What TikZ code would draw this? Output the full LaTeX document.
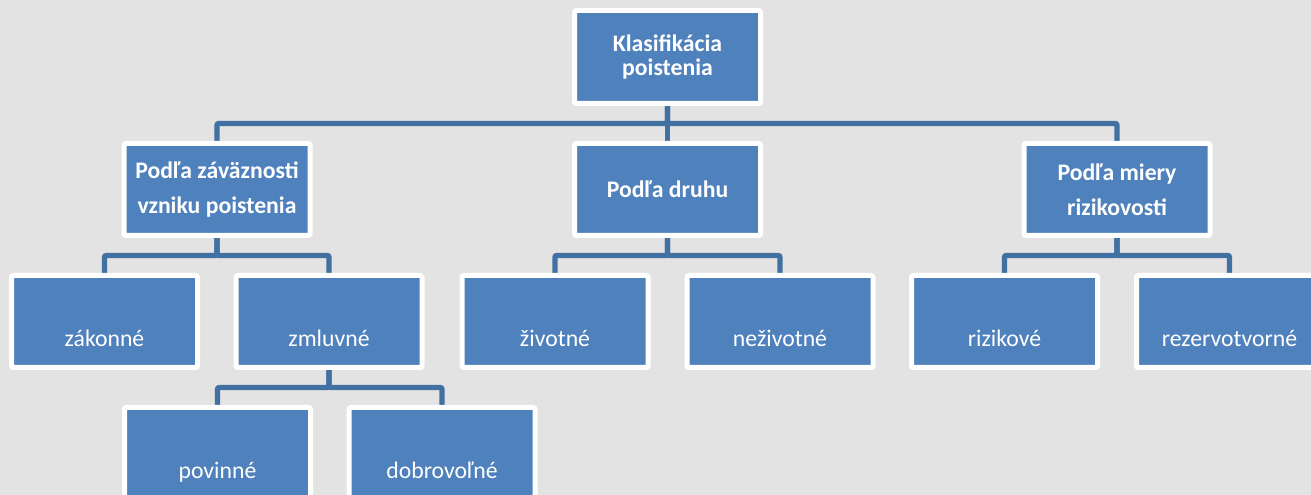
\documentclass[tikz,border=0pt]{standalone}
\usepackage{fontspec}
\setmainfont{Carlito}
\usetikzlibrary{backgrounds}
\definecolor{bg}{RGB}{227,227,227}
\definecolor{boxblue}{RGB}{79,129,189}
\definecolor{linkblue}{RGB}{65,113,163}
\begin{document}
\begin{tikzpicture}[x=0.75pt,y=-0.75pt,
  box/.style={rectangle, rounded corners=1.5pt, fill=boxblue, draw=white,
    line width=3.75pt, minimum width=139.5pt, minimum height=69pt,
    inner sep=0pt, text=white},
  head/.style={box, font=\fontsize{17.8pt}{26.25pt}\selectfont\bfseries, align=center},
  rootbox/.style={box, minimum height=69.75pt, font=\fontsize{17.8pt}{17.6pt}\selectfont\bfseries, align=center},
  leaf/.style={box, font=\fontsize{17.8pt}{21pt}\selectfont, text height=37.5pt, text depth=0pt},
  conn/.style={draw=linkblue, line width=4.1pt, rounded corners=1.5pt}]
\useasboundingbox (0,0) rectangle (1311,495);
\begin{pgfonlayer}{background}
  \fill[bg] (0,0) rectangle (1311,495);
\end{pgfonlayer}
\clip (0,0) rectangle (1311,495);

\node[rootbox] (root) at (667.5,57) {Klasifikácia\\poistenia};
\node[head] (zav) at (217,189.5) {Podľa záväznosti\\vzniku poistenia};
\node[head] (druh) at (667.5,189.5) {Podľa druhu};
\node[head] (rizk) at (1117,189.5) {Podľa miery\\rizikovosti};

\node[leaf] (zak) at (104.5,321.5) {zákonné};
\node[leaf] (zml) at (329,321.5) {zmluvné};
\node[leaf] (ziv) at (555,321.5) {životné};
\node[leaf] (nez) at (780,321.5) {neživotné};
\node[leaf] (riz) at (1004.5,321.5) {rizikové};
\node[leaf] (rez) at (1229.5,321.5) {rezervotvorné};

\node[leaf] (pov) at (217.5,453.5) {povinné};
\node[leaf] (dob) at (442,453.5) {dobrovoľné};

\coordinate (h1) at (0,123.5);
\coordinate (h2) at (0,255.5);
\coordinate (h3) at (0,387.5);

\begin{pgfonlayer}{background}
  \draw[conn] (root.south) -- (root.south |- h1) -| (zav.north);
  \draw[conn] (root.south) -- (druh.north);
  \draw[conn] (root.south) -- (root.south |- h1) -| (rizk.north);
  \draw[conn] (zav.south) -- (zav.south |- h2) -| (zak.north);
  \draw[conn] (zav.south) -- (zav.south |- h2) -| (zml.north);
  \draw[conn] (druh.south) -- (druh.south |- h2) -| (ziv.north);
  \draw[conn] (druh.south) -- (druh.south |- h2) -| (nez.north);
  \draw[conn] (rizk.south) -- (rizk.south |- h2) -| (riz.north);
  \draw[conn] (rizk.south) -- (rizk.south |- h2) -| (rez.north);
  \draw[conn] (zml.south) -- (zml.south |- h3) -| (pov.north);
  \draw[conn] (zml.south) -- (zml.south |- h3) -| (dob.north);
\end{pgfonlayer}
\end{tikzpicture}
\end{document}
